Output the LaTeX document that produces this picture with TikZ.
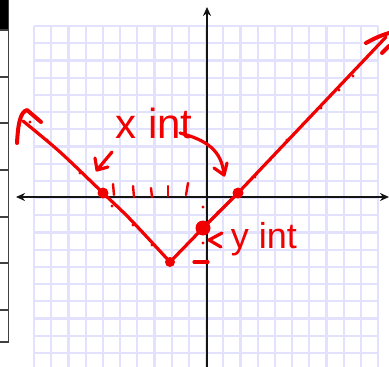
\documentclass[tikz,border=0pt]{standalone}
\usepackage{fontspec}
\setmainfont{Liberation Sans}
\usetikzlibrary{arrows.meta}
\definecolor{gridc}{RGB}{226,226,255}
\definecolor{pen}{RGB}{240,0,0}
\definecolor{axc}{RGB}{20,20,20}
\begin{document}
\begin{tikzpicture}[x=1pt,y=-1pt,
  gridline/.style={draw=gridc,line width=2.2pt},
  axisline/.style={draw=axc,line width=2.6pt},
  penline/.style={draw=pen,line width=3.2pt,line cap=round,line join=round},
  penthin/.style={draw=pen,line width=2.4pt,line cap=round,line join=round},
  pendot/.style={fill=pen},
  tabline/.style={draw=black!75,line width=1.8pt},
  hand/.style={text=pen,inner sep=0pt}]
\useasboundingbox (0,0) rectangle (389,367);
% side table
\fill[black] (0,0) rectangle (8,30);
\draw[tabline] (8.5,0) -- (8.5,342);
\foreach \yy in {30,77,123,170,217,263,310,342} \draw[tabline] (0,\yy) -- (8.5,\yy);
% grid
\foreach \i in {0,...,20} \draw[gridline] ({34+17.2*\i},26) -- ({34+17.2*\i},367);
\foreach \j in {0,...,19} \draw[gridline] (34,{26+17.2*\j}) -- (378,{26+17.2*\j});
% axes
\coordinate (ybot) at (207,367);
\coordinate (ytop) at (207,7);
\coordinate (xl) at (16,197);
\coordinate (xr) at (389,197);
\draw[axisline,-{Stealth[length=9pt,width=8pt]}] (ybot) -- (ytop);
\draw[axisline,{Stealth[length=9pt,width=8pt]}-{Stealth[length=9pt,width=8pt]}] (xl) -- (xr);
% key points
\coordinate (L) at (23,121);
\coordinate (xintL) at (103,193);
\coordinate (V) at (170,262);
\coordinate (yint) at (203,228);
\coordinate (xintR) at (238,193);
\coordinate (R) at (386,37);
% graph
\draw[penline] plot[smooth,tension=0.5] coordinates {(L) (60,152) (xintL) (130,219) (V)};
\draw[penline] (V) -- (yint) -- (xintR) -- (R);
% arrowheads
\draw[penline,line width=4pt] (17,143) .. controls (18,125) and (20,112) .. (27,110) -- (41,122);
\draw[penline,line width=4pt] (366,43) .. controls (375,38) and (382,35) .. (389,33);
\draw[penline,line width=4pt] (382,53) -- (389,46);
% dots
\fill[pendot] (xintL) circle (5.5);
\fill[pendot] (xintR) circle (5.5);
\fill[pendot] (V) circle (5);
\fill[pendot] (yint) circle (7.5);
% small marks
\foreach \p in {(30,122),(47,140),(80,173),(112,206),(133,225),(152,245),(203,207),(218,212),(203,243),(255,177),(270,160),(287,140),(303,124),(321,108),(339,90),(353,76)}
  \fill[pendot] \p circle (1.6);
\foreach \xa/\ya/\xb/\yb in {113/184/114/195,133/186/134/197,151/188/152/197,168/186/168/196,188/183/186/195}
  \draw[penthin] (\xa,\ya) -- (\xb,\yb);
% labels
\node[hand,font=\fontsize{42}{42}\selectfont,anchor=base] (xlab) at (154,138) {x int};
\node[hand,font=\fontsize{36}{36}\selectfont,anchor=base] (ylab) at (264,248) {y int};
% annotation arrows
\coordinate (a1s) at (112,152);
\coordinate (a1e) at (97,170);
\draw[penline] (a1s) -- (a1e);
\draw[penline] (95,158) -- (a1e) -- (108,167);
\coordinate (a2s) at (180,133);
\coordinate (a2e) at (224,175);
\draw[penline] (a2s) .. controls (206,140) and (222,150) .. (a2e);
\draw[penline] (214,168) -- (a2e) -- (227,163);
\draw[penline] (222,233) -- (209,240) -- (221,247);
\draw[penline] (194,262) -- (208,262);
\end{tikzpicture}
\end{document}
